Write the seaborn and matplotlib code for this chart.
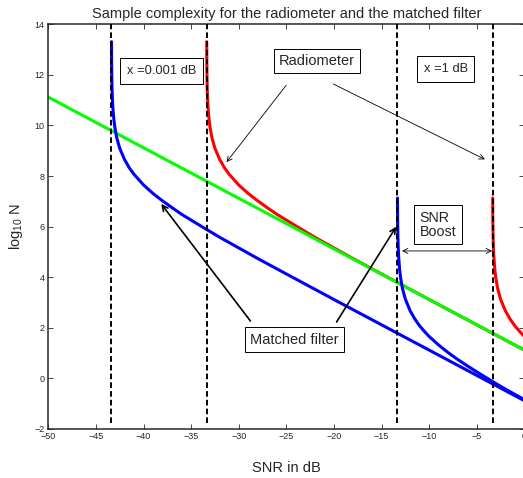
import matplotlib
matplotlib.use("Agg")
import matplotlib.pyplot as plt
import seaborn as sns
import pandas as pd

# SNR walls (dB) for the two noise-uncertainty levels, radiometer and matched filter
wall_snr_db = [-43.37, -33.37, -13.33, -3.33]

# Radiometer, no uncertainty (reference slope)
green_snr = [-50.0, 0.0]
green_logn = [11.12, 1.12]

# Radiometer, x = 0.001 dB
red_left_snr = [-33.36, -33.35, -33.33, -33.30, -33.25, -33.20, -33.10, -33.00, -32.80,
                -32.50, -32.00, -31.50, -31.00, -30.00, -29.00, -28.00, -27.00, -26.00,
                -25.00, -24.00, -22.00, -20.00, -18.00, -15.00, -10.00, -5.00, 0.00]
red_left_logn = [13.31, 12.58, 11.92, 11.40, 10.92, 10.60, 10.19, 9.90, 9.50,
                 9.10, 8.66, 8.33, 8.07, 7.65, 7.31, 7.02, 6.75, 6.49,
                 6.26, 6.03, 5.58, 5.16, 4.74, 4.13, 3.12, 2.12, 1.12]

# Matched filter, x = 0.001 dB
blue_left_snr = [-43.36, -43.35, -43.33, -43.30, -43.25, -43.20, -43.10, -43.00, -42.80,
                 -42.50, -42.00, -41.50, -41.00, -40.00, -39.00, -38.00, -37.00, -36.00,
                 -35.00, -34.00, -32.00, -30.00, -28.00, -25.00, -20.00, -15.00, -10.00,
                 -5.00, 0.00]
blue_left_logn = [13.31, 12.58, 11.92, 11.40, 10.92, 10.60, 10.19, 9.90, 9.50,
                  9.10, 8.66, 8.33, 8.07, 7.65, 7.31, 7.02, 6.75, 6.49,
                  6.26, 6.03, 5.58, 5.16, 4.74, 4.13, 3.12, 2.12, 1.12,
                  0.12, -0.88]

# Radiometer, x = 1 dB
red_right_snr = [-3.32, -3.31, -3.30, -3.28, -3.25, -3.20, -3.10, -3.00, -2.80,
                 -2.50, -2.00, -1.50, -1.00, -0.50, 0.00]
red_right_logn = [7.13, 6.49, 6.13, 5.67, 5.25, 4.82, 4.32, 3.99, 3.56,
                  3.14, 2.68, 2.35, 2.08, 1.86, 1.66]

# Matched filter, x = 1 dB
blue_right_snr = [-13.32, -13.31, -13.30, -13.28, -13.25, -13.20, -13.10, -13.00, -12.80,
                  -12.50, -12.00, -11.50, -11.00, -10.50, -10.00, -9.00, -8.00, -7.00,
                  -6.00, -5.00, -4.00, -3.00, -2.00, -1.00, 0.00]
blue_right_logn = [7.13, 6.49, 6.13, 5.67, 5.25, 4.82, 4.32, 3.99, 3.56,
                   3.14, 2.68, 2.35, 2.08, 1.86, 1.66, 1.32, 1.02, 0.75,
                   0.50, 0.26, 0.03, -0.20, -0.42, -0.63, -0.84]

x_ticks = [-50, -45, -40, -35, -30, -25, -20, -15, -10, -5, 0]
y_ticks = [-2, 0, 2, 4, 6, 8, 10, 12, 14]

sns.set_style("ticks")
plt.rcParams["font.family"] = ["Liberation Sans", "DejaVu Sans"]
plt.rcParams["mathtext.default"] = "regular"

W, H = 523, 478
fig = plt.figure(figsize=(W / 100, H / 100), dpi=100)
ax = fig.add_axes([48.3 / W, 1 - 429.0 / H, 476.0 / W, 404.7 / H])

curves = [
    (red_left_snr, red_left_logn, "#ff0000"),
    (red_right_snr, red_right_logn, "#ff0000"),
    (green_snr, green_logn, "#00ff00"),
    (blue_left_snr, blue_left_logn, "#0000ff"),
    (blue_right_snr, blue_right_logn, "#0000ff"),
]
for snr, logn, col in curves:
    df = pd.DataFrame({"snr": snr, "logn": logn})
    sns.lineplot(data=df, x="snr", y="logn", color=col, lw=2.2, sort=False,
                 estimator=None, ax=ax, zorder=2)

ax.vlines(wall_snr_db, -1.75, 14, colors="black", linestyles=(0, (2.9, 1.6)),
          lw=1.4, zorder=3)

ax.set_xlim(-50, 0)
ax.set_ylim(-2, 14)
ax.set_xticks(x_ticks)
ax.set_yticks(y_ticks)
ax.tick_params(direction="in", length=3.5, width=0.6, labelsize=6.5,
               top=True, right=True, pad=2.5)
for side in ["left", "bottom", "top", "right"]:
    ax.spines[side].set_linewidth(1.1)

ax.set_title("Sample complexity for the radiometer and the matched filter",
             fontsize=10.5, pad=4.5)
ax.set_xlabel("SNR in dB", fontsize=10.5, labelpad=14)
ax.set_ylabel("log$_{10}$ N", fontsize=10.5, labelpad=7)

box = dict(boxstyle="square,pad=0.33", fc="white", ec="black", lw=0.7)
box_small = dict(boxstyle="square,pad=0.52", fc="white", ec="black", lw=0.7)

ax.text(-38.14, 12.15, "x =0.001 dB", fontsize=9.3, ha="center", va="center",
        bbox=box_small, zorder=5)
ax.text(-8.26, 12.23, "x =1 dB", fontsize=9.3, ha="center", va="center",
        bbox=box_small, zorder=5)
ax.text(-21.75, 12.56, "Radiometer", fontsize=10.5, ha="center", va="center",
        bbox=box, zorder=5)
ax.text(-11.0, 6.08, "SNR\nBoost", fontsize=10.3, ha="left", va="center",
        linespacing=1.0, bbox=dict(boxstyle="square,pad=0.38", fc="white",
                                   ec="black", lw=0.7), zorder=5)
ax.text(-24.12, 1.53, "Matched filter", fontsize=10.5, ha="center", va="center",
        bbox=dict(boxstyle="square,pad=0.38", fc="white", ec="black", lw=0.7),
        zorder=5)

thin = dict(arrowstyle="->", lw=0.6, color="black", shrinkA=0, shrinkB=0,
            mutation_scale=9)
thick = dict(arrowstyle="->", lw=1.2, color="black", shrinkA=0, shrinkB=0,
             mutation_scale=10)
both = dict(arrowstyle="<->", lw=0.6, color="black", shrinkA=0, shrinkB=0,
            mutation_scale=9)

ax.annotate("", xy=(-31.28, 8.55), xytext=(-25.01, 11.59), arrowprops=thin, zorder=4)
ax.annotate("", xy=(-4.14, 8.66), xytext=(-20.06, 11.64), arrowprops=thin, zorder=4)
ax.annotate("", xy=(-38.14, 6.90), xytext=(-28.77, 2.27), arrowprops=thick, zorder=4)
ax.annotate("", xy=(-13.45, 6.00), xytext=(-19.72, 2.23), arrowprops=thick, zorder=4)
ax.annotate("", xy=(-3.38, 5.04), xytext=(-12.85, 5.04), arrowprops=both, zorder=4)

fig.savefig("out.png", dpi=100)
